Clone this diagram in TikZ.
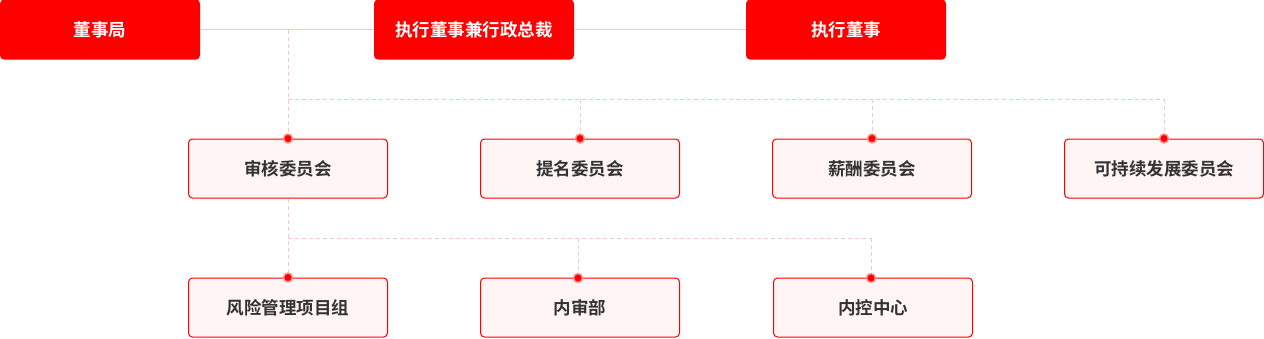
\documentclass[tikz,border=0pt]{standalone}
\usepackage{fontspec}
\setmainfont{Noto Sans CJK SC}[BoldFont={Noto Sans CJK SC Bold}]
\begin{document}
\begin{tikzpicture}[x=1pt,y=-1pt,
  topbox/.style={draw=none,fill=red,rounded corners=4pt,minimum width=200pt,minimum height=60pt,inner sep=0pt,text=white,font=\fontsize{17.5}{19}\selectfont\bfseries},
  subbox/.style={draw=red,line width=1pt,fill={rgb,255:red,255;green,245;blue,245},rounded corners=4pt,minimum width=199pt,minimum height=59pt,inner sep=0pt,text={rgb,255:red,51;green,51;blue,51},font=\fontsize{17.5}{19}\selectfont\bfseries},
  solidline/.style={draw={rgb,255:red,245;green,200;blue,200},line width=1pt},
  dashline/.style={draw={rgb,255:red,248;green,200;blue,200},line width=1pt,dash pattern=on 4pt off 3pt},
  dotmark/.style={circle,fill=red,draw={rgb,255:red,255;green,150;blue,150},line width=1.5pt,inner sep=0pt,minimum size=9pt}
]
\useasboundingbox (0,0) rectangle (1264,338);
% top row
\node[topbox] (a) at (100,29.5) {董事局};
\node[topbox] (b) at (474,29.5) {执行董事兼行政总裁};
\node[topbox] (c) at (846,29.5) {执行董事};
\draw[solidline] (a.east) -- (b.west);
\draw[solidline] (b.east) -- (c.west);
% committees
\node[subbox] (m1) at (288,168.5) {审核委员会};
\node[subbox] (m2) at (580,168.5) {提名委员会};
\node[subbox] (m3) at (872,168.5) {薪酬委员会};
\node[subbox] (m4) at (1164,168.5) {可持续发展委员会};
% bottom
\node[subbox] (d1) at (288,307.5) {风险管理项目组};
\node[subbox] (d2) at (580,307.5) {内审部};
\node[subbox] (d3) at (873,307.5) {内控中心};
% connectors
\coordinate (j0) at (288,29.5);
\coordinate (h1) at (288,99);
\coordinate (h4) at (1164,99);
\draw[dashline] (j0) -- (m1.north);
\draw[dashline] (h1) -- (h4);
\draw[dashline] (m2.north |- h1) -- (m2.north);
\draw[dashline] (m3.north |- h1) -- (m3.north);
\draw[dashline] (h4) -- (m4.north);
\coordinate (g1) at (288,238);
\coordinate (g3) at (871,238);
\coordinate (e2) at (578,278);
\coordinate (e3) at (871,278);
\draw[dashline] (m1.south) -- (d1.north);
\draw[dashline] (g1) -- (g3);
\draw[dashline] (e2 |- g1) -- (e2);
\draw[dashline] (g3) -- (e3);
% dots
\node[dotmark] at (m1.north) {};
\node[dotmark] at (m2.north) {};
\node[dotmark] at (m3.north) {};
\node[dotmark] at (m4.north) {};
\node[dotmark] at (d1.north) {};
\node[dotmark] at (e2) {};
\node[dotmark] at (e3) {};
\end{tikzpicture}
\end{document}
